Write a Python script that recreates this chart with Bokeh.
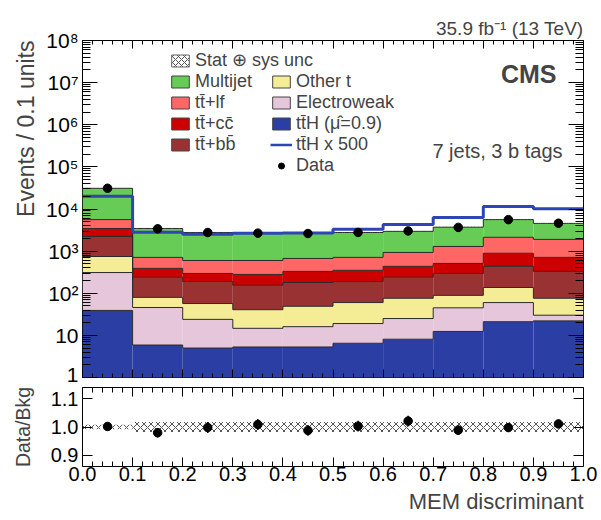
import numpy as np
from bokeh.plotting import figure
from bokeh.layouts import column
from bokeh.models import (FixedTicker, LogAxis, LinearAxis, CustomJSTickFormatter,
                          PrintfTickFormatter, Legend, LegendItem, Label, Title, Range1d)
from bokeh.embed import file_html
from bokeh.resources import INLINE

# ---------------- data ----------------
bin_edges = [0.0, 0.1, 0.2, 0.3, 0.4, 0.5, 0.6, 0.7, 0.8, 0.9, 1.0]
tth         = [39, 5.8, 4.9, 5.2, 5.2, 6.4, 8.0, 12.3, 21, 22]
electroweak = [271, 40, 19, 9.4, 10.8, 12.6, 17, 32.7, 39, 8]
other_t     = [435, 34, 33, 26, 33, 41, 51, 44, 77, 46]
ttbb        = [1485, 160, 133, 114, 131, 130, 164, 206, 298, 254]
ttcc        = [1220, 150, 105, 125, 150, 160, 195, 215, 455, 380]
ttlf        = [2150, 320, 305, 320, 340, 360, 495, 780, 1240, 1190]
multijet    = [25400, 2740, 2170, 2050, 1980, 2060, 2020, 2410, 3470, 2650]
tth_x500    = [20000, 2820, 2500, 2650, 2700, 3300, 4300, 6300, 11500, 10200]
data        = [31060, 3380, 2765, 2673, 2618, 2778, 3012, 3659, 5589, 4600]
data_err    = [176, 58, 53, 52, 51, 53, 55, 60, 75, 68]
unc_rel     = [0.008, 0.018, 0.018, 0.018, 0.018, 0.018, 0.018, 0.018, 0.018, 0.018]

y_ticks = [1, 10, 100, 1e3, 1e4, 1e5, 1e6, 1e7, 1e8]
x_ticks = [0.0, 0.1, 0.2, 0.3, 0.4, 0.5, 0.6, 0.7, 0.8, 0.9, 1.0]
ratio_ticks = [0.9, 1.0, 1.1]

FONT = "Liberation Sans"

components = [
    ("tt\u0304H (\u03bc\u0302=0.9)", tth, "#2b3ea3"),
    ("Electroweak", electroweak, "#e6c6da"),
    ("Other t", other_t, "#f5ec96"),
    ("tt\u0304+bb\u0304", ttbb, "#993333"),
    ("tt\u0304+cc\u0304", ttcc, "#cc0000"),
    ("tt\u0304+lf", ttlf, "#ff6666"),
    ("Multijet", multijet, "#66cc55"),
]

edges = np.array(bin_edges)
left = edges[:-1]
right = edges[1:]
centers = 0.5 * (left + right)

# ---------------- main panel ----------------
p = figure(width=601, height=385, x_range=Range1d(0, 1), y_range=Range1d(1, 1e8),
           y_axis_type="log", output_backend="svg", toolbar_location=None,
           min_border_left=82, min_border_right=18, min_border_top=40, min_border_bottom=8)
p.xgrid.visible = False
p.ygrid.visible = False
p.outline_line_color = "black"
p.outline_line_width = 1
p.background_fill_color = "white"
p.border_fill_color = "white"

p.title.text = "35.9 fb\u207b\u00b9 (13 TeV)"
p.title.align = "right"
p.title.text_font = FONT
p.title.text_font_size = "19px"
p.title.text_font_style = "normal"
p.title.standoff = 4

cum = np.full(len(left), 0.1)
tops = []
for name, vals, col in components:
    top = cum + np.array(vals, dtype=float)
    p.quad(left=left, right=right, bottom=cum, top=top, fill_color=col, line_color=None)
    tops.append(top)
    cum = top
total = cum - 0.1

for top in tops:
    p.step(x=edges, y=np.append(top, top[-1]), mode="after", line_color="#2a2a2a", line_width=1)

unc = np.array(unc_rel)
p.quad(left=left, right=right, bottom=total * (1 - unc), top=total * (1 + unc),
       fill_alpha=0, line_color=None, hatch_pattern="x", hatch_color="#555555",
       hatch_scale=7, hatch_weight=1)

tl = np.array(tth_x500, dtype=float)
p.step(x=edges, y=np.append(tl, tl[-1]), mode="after", line_color="#2e45b5", line_width=3)

d = np.array(data, dtype=float)
de = np.array(data_err, dtype=float)
p.segment(x0=centers, y0=d - de, x1=centers, y1=d + de, line_color="black", line_width=1.5)
p.scatter(x=centers, y=d, size=8.5, color="black")

def style_axis(ax, tick_in, minor_in, labels=True, size="20px", standoff=4):
    ax.major_tick_in = tick_in
    ax.major_tick_out = 0
    ax.minor_tick_in = minor_in
    ax.minor_tick_out = 0
    ax.axis_line_color = None
    ax.major_tick_line_color = "black"
    ax.minor_tick_line_color = "black"
    ax.major_label_text_font = FONT
    ax.major_label_text_color = "black"
    if labels:
        ax.major_label_text_font_size = size
        ax.major_label_standoff = standoff
    else:
        ax.formatter = CustomJSTickFormatter(code="return '';")
        ax.major_label_text_font_size = "2px"
        ax.major_label_standoff = 0

minor_y = [k * 10 ** e for e in range(0, 8) for k in range(2, 10)]
minor_x = [round(i * 0.02, 2) for i in range(51) if i % 5 != 0]

sup_code = """
const sup = {'0':'\u2070','1':'\u00b9','2':'\u00b2','3':'\u00b3','4':'\u2074','5':'\u2075','6':'\u2076','7':'\u2077','8':'\u2078','9':'\u2079'};
const e = Math.round(Math.log10(tick));
if (e == 0) return '1';
if (e == 1) return '10';
return '10' + String(e).split('').map(c => sup[c]).join('');
"""

yl = p.yaxis[0]
yl.ticker = FixedTicker(ticks=y_ticks, minor_ticks=minor_y)
yl.formatter = CustomJSTickFormatter(code=sup_code)
style_axis(yl, 15, 8, size="21px")

yr = LogAxis(ticker=FixedTicker(ticks=y_ticks, minor_ticks=minor_y))
style_axis(yr, 15, 8, labels=False)
p.add_layout(yr, "right")

xb = p.xaxis[0]
xb.ticker = FixedTicker(ticks=x_ticks, minor_ticks=minor_x)
style_axis(xb, 8, 4, labels=False)
xt = LinearAxis(ticker=FixedTicker(ticks=x_ticks, minor_ticks=minor_x))
style_axis(xt, 8, 4, labels=False)
p.add_layout(xt, "above")

p.add_layout(Title(text="Events / 0.1 units", align="right", text_font=FONT,
                   text_font_size="23px", text_font_style="normal"), "left")

p.add_layout(Label(x=474, y=290, x_units="screen", y_units="screen", text="CMS",
                   text_align="right", text_baseline="bottom", text_font=FONT,
                   text_font_size="25px", text_font_style="bold"))
p.add_layout(Label(x=480, y=216, x_units="screen", y_units="screen", text="7 jets, 3 b tags",
                   text_align="right", text_baseline="bottom", text_font=FONT,
                   text_font_size="20px"))

def box(col, hatch=False):
    if hatch:
        return p.quad(left=[0], right=[0], top=[1], bottom=[1], fill_color="white",
                      line_color="#666666", hatch_pattern="x", hatch_color="#555555",
                      hatch_scale=6, hatch_weight=1)
    return p.quad(left=[0], right=[0], top=[1], bottom=[1], fill_color=col, line_color="#444444")

cmap = {n: c for n, _, c in components}
items1 = [
    LegendItem(label="Stat \u2295 sys unc", renderers=[box(None, hatch=True)]),
    LegendItem(label="Multijet", renderers=[box(cmap["Multijet"])]),
    LegendItem(label="tt\u0304+lf", renderers=[box(cmap["tt\u0304+lf"])]),
    LegendItem(label="tt\u0304+cc\u0304", renderers=[box(cmap["tt\u0304+cc\u0304"])]),
    LegendItem(label="tt\u0304+bb\u0304", renderers=[box(cmap["tt\u0304+bb\u0304"])]),
]
line_dummy = p.line(x=[0, 0], y=[1, 1], line_color="#2e45b5", line_width=2.5)
data_dummy = p.scatter(x=[-1], y=[1], size=8.5, color="black")
items2 = [
    LegendItem(label="Other t", renderers=[box(cmap["Other t"])]),
    LegendItem(label="Electroweak", renderers=[box(cmap["Electroweak"])]),
    LegendItem(label="tt\u0304H (\u03bc\u0302=0.9)", renderers=[box(cmap["tt\u0304H (\u03bc\u0302=0.9)"])]),
    LegendItem(label="tt\u0304H x 500", renderers=[line_dummy]),
    LegendItem(label="Data", renderers=[data_dummy]),
]

def mk_legend(items, loc):
    return Legend(items=items, location=loc, glyph_width=22, glyph_height=15,
                  label_height=21, spacing=0, padding=0, margin=0, label_standoff=4,
                  border_line_color=None, background_fill_alpha=0,
                  label_text_font=FONT, label_text_font_size="18px")

p.add_layout(mk_legend(items1, (87, 222)))
p.add_layout(mk_legend(items2, (188, 201)))

# ---------------- ratio panel ----------------
r = figure(width=601, height=135, x_range=p.x_range, y_range=Range1d(0.86, 1.14),
           output_backend="svg", toolbar_location=None,
           min_border_left=82, min_border_right=18, min_border_top=2, min_border_bottom=54)
r.xgrid.visible = False
r.ygrid.visible = False
r.outline_line_color = "black"
r.outline_line_width = 1
r.border_fill_color = "white"

r.quad(left=left, right=right, bottom=1 - unc, top=1 + unc, fill_alpha=0, line_color=None,
       hatch_pattern="x", hatch_color="#555555", hatch_scale=7, hatch_weight=1)
ratio = d / total
ratio_err = de / total
r.segment(x0=centers, y0=ratio - ratio_err, x1=centers, y1=ratio + ratio_err,
          line_color="black", line_width=1.5)
r.scatter(x=centers, y=ratio, size=8.5, color="black")

rx = r.xaxis[0]
rx.ticker = FixedTicker(ticks=x_ticks, minor_ticks=minor_x)
rx.formatter = PrintfTickFormatter(format="%.1f")
style_axis(rx, 9, 5, standoff=0)
rxt = LinearAxis(ticker=FixedTicker(ticks=x_ticks, minor_ticks=minor_x))
style_axis(rxt, 9, 5, labels=False)
r.add_layout(rxt, "above")

ry = r.yaxis[0]
ry.ticker = FixedTicker(ticks=ratio_ticks, minor_ticks=[])
ry.formatter = PrintfTickFormatter(format="%.1f")
style_axis(ry, 10, 0)
ry.axis_label = "Data/Bkg"
ry.axis_label_text_font = FONT
ry.axis_label_text_font_size = "19.5px"
ry.axis_label_text_font_style = "normal"
ry.axis_label_standoff = 14
ryr = LinearAxis(ticker=FixedTicker(ticks=ratio_ticks, minor_ticks=[]))
style_axis(ryr, 10, 0, labels=False)
r.add_layout(ryr, "right")

r.add_layout(Title(text="MEM discriminant", align="right", text_font=FONT,
                   text_font_size="22px", text_font_style="normal", standoff=7), "below")

layout = column(p, r, spacing=0)
open("out.html", "w").write(file_html(layout, INLINE))
